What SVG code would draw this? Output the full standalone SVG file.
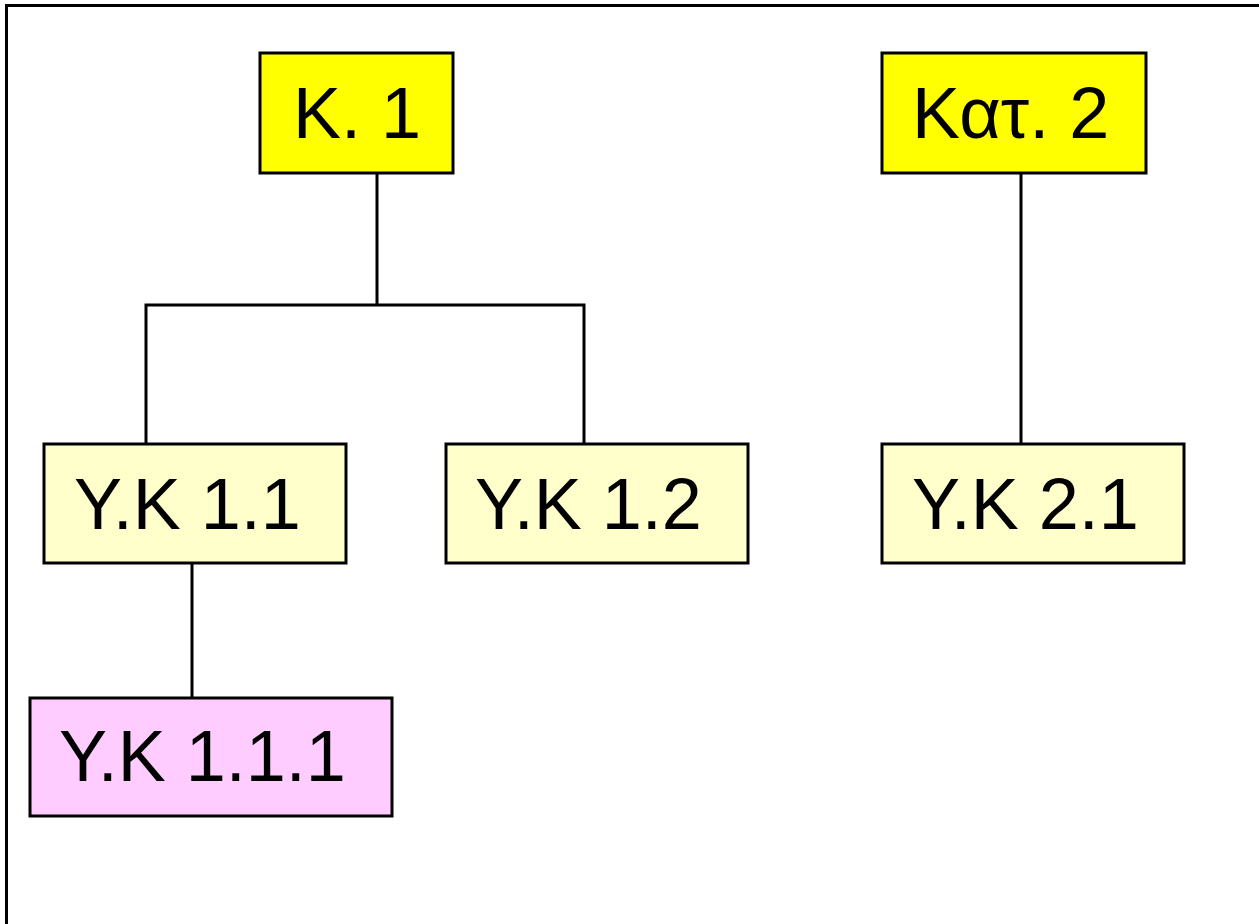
<svg xmlns="http://www.w3.org/2000/svg" width="1259" height="924" viewBox="0 0 1259 924">
<style>
.box{stroke:#000;stroke-width:3}
.cat{fill:#FFFF00}
.sub{fill:#FFFFCC}
.sub2{fill:#FFCCFF}
.lbl{font-family:"Liberation Sans",Arial,sans-serif;font-size:72px;fill:#000}
.conn{stroke:#000;stroke-width:3;fill:none}
</style>
<rect x="0" y="0" width="1259" height="924" fill="#fff"/>
<rect x="6.5" y="5.5" width="1300" height="1000" fill="none" stroke="#000" stroke-width="3"/>
<g id="connectors">
<path class="conn" d="M377 174V305M146 443V305H584V443"/>
<path class="conn" d="M1021 174V443"/>
<path class="conn" d="M192 564V697"/>
</g>
<g id="k1"><rect class="box cat" x="260" y="53" width="193" height="120"/><text class="lbl" x="293" y="138">K. 1</text></g>
<g id="kat2"><rect class="box cat" x="882" y="53" width="264" height="120"/><text class="lbl" x="912" y="138">Κατ. 2</text></g>
<g id="yk11"><rect class="box sub" x="44" y="444" width="302" height="119"/><text class="lbl" x="74" y="529">Y.K 1.1</text></g>
<g id="yk12"><rect class="box sub" x="446" y="444" width="302" height="119"/><text class="lbl" x="475" y="529">Y.K 1.2</text></g>
<g id="yk21"><rect class="box sub" x="882" y="444" width="302" height="119"/><text class="lbl" x="912" y="529">Y.K 2.1</text></g>
<g id="yk111"><rect class="box sub2" x="30" y="698" width="362" height="118"/><text class="lbl" x="59" y="781">Y.K 1.1.1</text></g>
</svg>
